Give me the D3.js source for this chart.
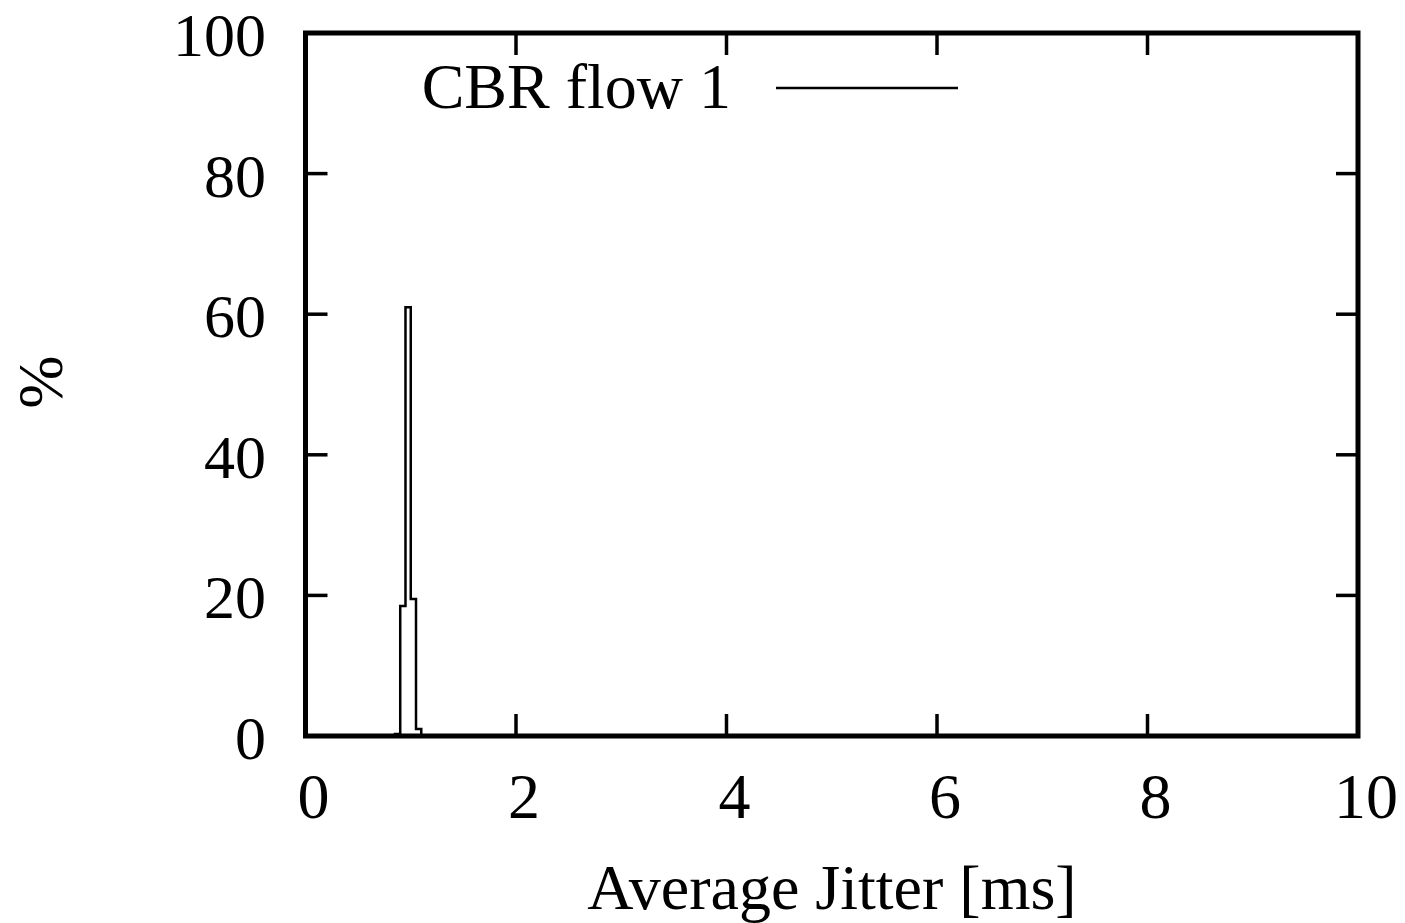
<!DOCTYPE html>
<html>
<head>
<meta charset="utf-8">
<script src="https://cdn.jsdelivr.net/npm/d3@7"></script>
<style>
  body { margin: 0; background: white; }
  text { font-family: "Liberation Serif", "DejaVu Serif", serif; fill: black; }
</style>
</head>
<body>
<div id="container"></div>
<script>
let w = 1405;
let h = 923;

// histogram bins: left edge of each bin (ms) and % in it
let binStarts = [0.85, 0.90, 0.95, 1.00, 1.05, 1.10];
let binValues = [0.3, 18.5, 61, 19.5, 1, 0];
let binWidth = 0.05;

let xTicks = [0, 2, 4, 6, 8, 10];
let yTicks = [0, 20, 40, 60, 80, 100];
let seriesName = "CBR flow 1";

let viz = d3.select("#container")
  .append("svg")
    .attr("width", w)
    .attr("height", h)
    .style("background-color", "white")
;

let plotLeft = 305.5, plotRight = 1358, plotTop = 33, plotBottom = 736;
let xScale = d3.scaleLinear().domain([0, 10]).range([plotLeft, plotRight]);
let yScale = d3.scaleLinear().domain([0, 100]).range([plotBottom, plotTop]);
let tickLen = 22;
let fs = 64;

// ticks on all sides (inward)
let tickGroup = viz.append("g").attr("stroke", "black").attr("stroke-width", 3.5);
tickGroup.selectAll(".xb").data(xTicks).enter().append("line")
    .attr("x1", d => xScale(d)).attr("x2", d => xScale(d))
    .attr("y1", plotBottom).attr("y2", plotBottom - tickLen);
tickGroup.selectAll(".xt").data(xTicks).enter().append("line")
    .attr("x1", d => xScale(d)).attr("x2", d => xScale(d))
    .attr("y1", plotTop).attr("y2", plotTop + tickLen);
tickGroup.selectAll(".yl").data(yTicks).enter().append("line")
    .attr("x1", plotLeft).attr("x2", plotLeft + tickLen)
    .attr("y1", d => yScale(d)).attr("y2", d => yScale(d));
tickGroup.selectAll(".yr").data(yTicks).enter().append("line")
    .attr("x1", plotRight).attr("x2", plotRight - tickLen)
    .attr("y1", d => yScale(d)).attr("y2", d => yScale(d));

// tick labels
viz.selectAll(".xlab").data(xTicks).enter().append("text")
    .attr("x", d => xScale(d) + 8)
    .attr("y", 818)
    .attr("text-anchor", "middle")
    .attr("font-size", fs)
    .text(d => d);
viz.selectAll(".ylab").data(yTicks).enter().append("text")
    .attr("x", 266)
    .attr("y", d => yScale(d) + 23)
    .attr("text-anchor", "end")
    .attr("font-size", 62)
    .text(d => d);

// histogram steps
let steps = [];
binStarts.forEach(function(s, i){
  steps.push([s, binValues[i]]);
  steps.push([s + binWidth, binValues[i]]);
});
let pts = [[binStarts[0], 0]].concat(steps).concat([[binStarts[binStarts.length - 1] + binWidth, 0]]);
let line = d3.line().x(d => xScale(d[0])).y(d => yScale(d[1]));
viz.append("path")
    .attr("d", line(pts))
    .attr("fill", "none")
    .attr("stroke", "black")
    .attr("stroke-width", 2.5);

// frame
viz.append("rect")
    .attr("x", plotLeft).attr("y", plotTop)
    .attr("width", plotRight - plotLeft).attr("height", plotBottom - plotTop)
    .attr("fill", "none")
    .attr("stroke", "black")
    .attr("stroke-width", 5);

// legend
viz.append("text")
    .attr("x", 731).attr("y", 108)
    .attr("text-anchor", "end")
    .attr("font-size", fs)
    .text(seriesName);
viz.append("line")
    .attr("x1", 776).attr("x2", 958)
    .attr("y1", 88).attr("y2", 88)
    .attr("stroke", "black").attr("stroke-width", 2.5);

// axis titles
viz.append("text")
    .attr("x", 832).attr("y", 909)
    .attr("text-anchor", "middle")
    .attr("font-size", fs)
    .text("Average Jitter [ms]");
viz.append("text")
    .attr("transform", "translate(62,382) rotate(-90)")
    .attr("text-anchor", "middle")
    .attr("font-size", fs)
    .text("%");
</script>
</body>
</html>
